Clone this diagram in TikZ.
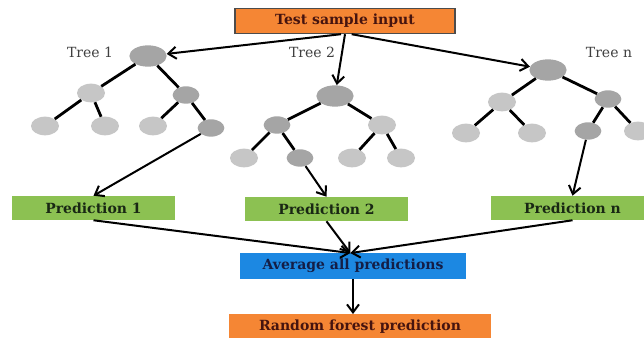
\documentclass[tikz,border=0pt]{standalone}
\usepackage{fontspec}
\setmainfont{DejaVu Serif}
\usetikzlibrary{shapes.geometric, arrows.meta}
\definecolor{boxorange}{RGB}{245,134,52}
\definecolor{boxgreen}{RGB}{140,193,82}
\definecolor{boxblue}{RGB}{28,136,226}
\definecolor{nodedark}{RGB}{165,165,165}
\definecolor{nodelight}{RGB}{198,198,198}
\definecolor{txtred}{RGB}{70,20,15}
\definecolor{txtblue}{RGB}{20,30,70}
\definecolor{txtgreen}{RGB}{25,40,20}

\begin{document}
\begin{tikzpicture}[x=0.75pt, y=-0.75pt]
        \tikzset{ rt/.style ={ellipse, draw=none, fill=nodedark, minimum width=28pt, minimum height=16pt, inner sep=0pt } }
        \tikzset{ dk/.style ={ellipse, draw=none, fill=nodedark, minimum width=20pt, minimum height=13pt, inner sep=0pt } }
        \tikzset{ lt/.style ={ellipse, draw=none, fill=nodelight, minimum width=21pt, minimum height=14pt, inner sep=0pt } }
        \tikzset{ lbl/.style ={text=black!75, font=\fontsize{10.5}{12}\selectfont } }
        \tikzset{ bx/.style ={minimum height=18pt, inner sep=0pt, font=\bfseries\fontsize{10.5}{12}\selectfont } }

        \tikzstyle{edge}=[line width=2.1pt]
        \tikzstyle{lnk}=[-{Straight Barb[length=6pt,width=9pt]}, line width=1.5pt]

        \useasboundingbox (0,0) rectangle (644,338);
        \fill[white] (0,0) rectangle (644,338);

        \node[bx, fill=boxorange, draw=black!70, line width=0.8pt, text=txtred, minimum width=165pt, minimum height=19pt] (test) at (345,21) {Test sample input};

        % tree 1
        \node[lbl] (lab1) at (90,52) {Tree 1};
        \node[rt] (t1r) at (148,56) {};
        \node[lt] (t1a) at (91,93) {};
        \node[dk] (t1b) at (186,95) {};
        \node[lt] (t1aa) at (45,126) {};
        \node[lt] (t1ab) at (105,126) {};
        \node[lt] (t1ba) at (153,126) {};
        \node[dk] (t1bb) at (211,128) {};
        \draw[edge] (t1r) -- (t1a);
        \draw[edge] (t1r) -- (t1b);
        \draw[edge] (t1a) -- (t1aa);
        \draw[edge] (t1a) -- (t1ab);
        \draw[edge] (t1b) -- (t1ba);
        \draw[edge] (t1b) -- (t1bb);

        % tree 2
        \node[lbl] (lab2) at (312,52) {Tree 2};
        \node[rt] (t2r) at (335,96) {};
        \node[dk] (t2a) at (277,125) {};
        \node[lt] (t2b) at (382,125) {};
        \node[lt] (t2aa) at (244,158) {};
        \node[dk] (t2ab) at (300,158) {};
        \node[lt] (t2ba) at (352,158) {};
        \node[lt] (t2bb) at (401,158) {};
        \draw[edge] (t2r) -- (t2a);
        \draw[edge] (t2r) -- (t2b);
        \draw[edge] (t2a) -- (t2aa);
        \draw[edge] (t2a) -- (t2ab);
        \draw[edge] (t2b) -- (t2ba);
        \draw[edge] (t2b) -- (t2bb);

        % tree n
        \node[lbl] (labn) at (609,52) {Tree n};
        \node[rt] (tnr) at (548,70) {};
        \node[lt] (tna) at (502,102) {};
        \node[dk] (tnb) at (608,99) {};
        \node[lt] (tnaa) at (466,133) {};
        \node[lt] (tnab) at (532,133) {};
        \node[dk] (tnba) at (588,131) {};
        \node[lt] (tnbb) at (638,131) {};
        \draw[edge] (tnr) -- (tna);
        \draw[edge] (tnr) -- (tnb);
        \draw[edge] (tna) -- (tnaa);
        \draw[edge] (tna) -- (tnab);
        \draw[edge] (tnb) -- (tnba);
        \draw[edge] (tnb) -- (tnbb);

        \draw[lnk] ([xshift=-3pt]test.south) -- (t1r);
        \draw[lnk] (test.south) -- (t2r);
        \draw[lnk] ([xshift=5pt]test.south) -- (tnr);

        \node[bx, fill=boxgreen, text=txtgreen, minimum width=122pt] (pred1) at (93.5,208) {Prediction 1};
        \node[bx, fill=boxgreen, text=txtgreen, minimum width=122pt] (pred2) at (326.5,209) {Prediction 2};
        \node[bx, fill=boxgreen, text=txtgreen, minimum width=122pt] (predn) at (572.5,208) {Prediction n};

        \draw[lnk] (t1bb) -- (pred1.north);
        \draw[lnk] (t2ab) -- (pred2.north);
        \draw[lnk] (tnba) -- (predn.north);

        \node[bx, fill=boxblue, text=txtblue, minimum width=170pt, minimum height=19pt] (avg) at (353,266) {Average all predictions};
        \node[bx, fill=boxorange, text=txtred, minimum width=197pt, minimum height=19pt] (rf) at (360,327) {Random forest prediction};

        \draw[lnk] (pred1.south) -- ([xshift=-2pt]avg.north);
        \draw[lnk] (pred2.south) -- ([xshift=-2pt]avg.north);
        \draw[lnk] (predn.south) -- ([xshift=-2pt]avg.north);
        \draw[lnk] (avg.south) -- (avg.south |- rf.north);
\end{tikzpicture}
\end{document}
